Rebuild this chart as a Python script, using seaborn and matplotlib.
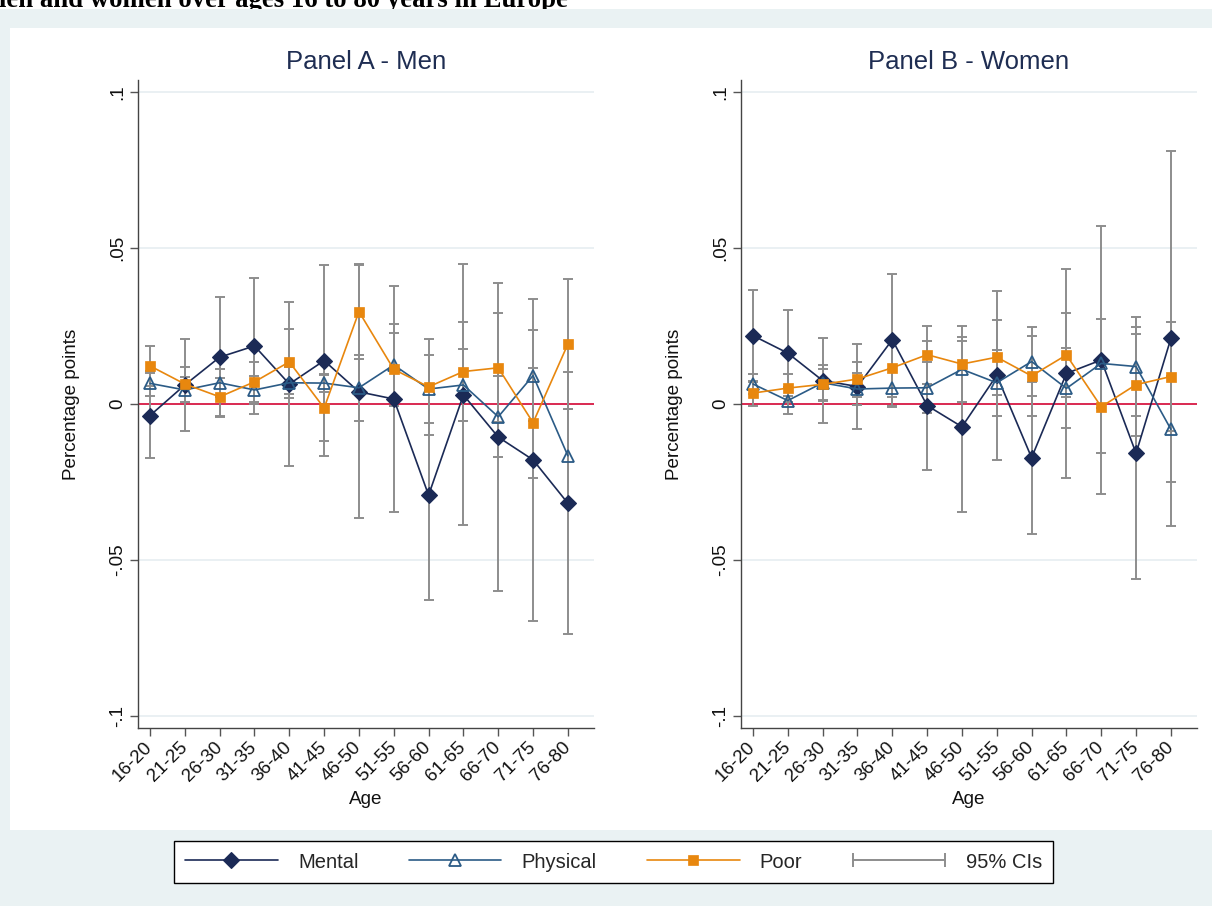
import numpy as np
import pandas as pd
import matplotlib
matplotlib.use("Agg")
import matplotlib.pyplot as plt
import seaborn as sns
from matplotlib.lines import Line2D
from matplotlib.legend_handler import HandlerLine2D
from matplotlib.patches import Rectangle

# ---------------- data ----------------
age_groups = ["16-20", "21-25", "26-30", "31-35", "36-40", "41-45", "46-50",
              "51-55", "56-60", "61-65", "66-70", "71-75", "76-80"]

men_mental = [-0.0037, 0.0061, 0.0150, 0.0186, 0.0064, 0.0139, 0.0039,
              0.0016, -0.0292, 0.0029, -0.0106, -0.0179, -0.0318]
men_mental_ci = [0.0137, 0.0146, 0.0193, 0.0217, 0.0263, 0.0305, 0.0405,
                 0.0363, 0.0335, 0.0418, 0.0494, 0.0516, 0.0420]
men_physical = [0.0066, 0.0045, 0.0068, 0.0045, 0.0068, 0.0067, 0.0052,
                0.0125, 0.0048, 0.0061, -0.0041, 0.0091, -0.0166]
men_physical_ci = [0.0040, 0.0040, 0.0044, 0.0045, 0.0050, 0.0030, 0.0105,
                   0.0131, 0.0110, 0.0115, 0.0130, 0.0146, 0.0150]
men_poor = [0.0122, 0.0064, 0.0023, 0.0071, 0.0135, -0.0013, 0.0296,
            0.0111, 0.0055, 0.0104, 0.0116, -0.0060, 0.0192]
men_poor_ci = [0.0064, 0.0056, 0.0060, 0.0064, 0.0104, 0.0105, 0.0153,
               0.0118, 0.0154, 0.0160, 0.0175, 0.0176, 0.0208]

women_mental = [0.0219, 0.0163, 0.0075, 0.0056, 0.0206, -0.0005, -0.0073,
                0.0092, -0.0172, 0.0098, 0.0141, -0.0158, 0.0210]
women_mental_ci = [0.0147, 0.0138, 0.0135, 0.0136, 0.0211, 0.0207, 0.0274,
                   0.0270, 0.0243, 0.0335, 0.0428, 0.0404, 0.0600]
women_physical = [0.0064, 0.0011, 0.0068, 0.0048, 0.0051, 0.0052, 0.0111,
                  0.0068, 0.0136, 0.0050, 0.0130, 0.0120, -0.0081]
women_physical_ci = [0.0032, 0.0043, 0.0058, 0.0050, 0.0060, 0.0081, 0.0105,
                     0.0105, 0.0110, 0.0128, 0.0142, 0.0159, 0.0170]
women_poor = [0.0035, 0.0051, 0.0063, 0.0080, 0.0116, 0.0158, 0.0128,
              0.0150, 0.0090, 0.0157, -0.0009, 0.0062, 0.0088]
women_poor_ci = [0.0040, 0.0045, 0.0050, 0.0056, 0.0095, 0.0093, 0.0122,
                 0.0120, 0.0127, 0.0136, 0.0149, 0.0163, 0.0174]

series_names = ["Mental", "Physical", "Poor"]
y_ticks = [-0.1, -0.05, 0, 0.05, 0.1]
y_tick_labels = ["-.1", "-.05", "0", ".05", ".1"]
panel_titles = ["Panel A - Men", "Panel B - Women"]
header_text = "men and women over ages 16 to 80 years in Europe"

# ---------------- style ----------------
sns.set_theme(style="white")
plt.rcParams["font.family"] = ["Liberation Sans", "DejaVu Sans"]

C_MENTAL = "#1b2a56"
C_PHYS = "#2b5b86"
C_POOR = "#e8870e"
C_CI = "#8d8d8d"
C_ZERO = "#d91a45"
C_BAND = "#eaf2f3"
C_GRID = "#e8eff2"
C_TITLE = "#1e2d52"

W, H = 1212, 906
fig = plt.figure(figsize=(W / 100, H / 100), dpi=100)
fig.patch.set_facecolor("white")

# header text (cut off at top) and background regions
fig.text(568 / W, 1 - 7 / H, header_text, ha="right", va="baseline",
         fontsize=19.3, fontweight="bold", family=["Liberation Serif"],
         color="black", zorder=-3)
fig.add_artist(Rectangle((0, 0), 1, 1 - 9 / H, transform=fig.transFigure,
                         facecolor=C_BAND, edgecolor="none", zorder=-2))
fig.add_artist(Rectangle((10 / W, 1 - 830 / H), 1 - 10 / W, (830 - 28) / H,
                         transform=fig.transFigure, facecolor="white",
                         edgecolor="none", zorder=-1))


def make_df(mental, physical, poor, mental_ci, physical_ci, poor_ci):
    rows = []
    for name, vals, cis in zip(series_names, [mental, physical, poor],
                               [mental_ci, physical_ci, poor_ci]):
        for i, (v, c) in enumerate(zip(vals, cis)):
            rows.append({"idx": i, "age": age_groups[i], "series": name,
                         "value": v, "ci": c})
    return pd.DataFrame(rows)


panels = [
    make_df(men_mental, men_physical, men_poor,
            men_mental_ci, men_physical_ci, men_poor_ci),
    make_df(women_mental, women_physical, women_poor,
            women_mental_ci, women_physical_ci, women_poor_ci),
]

styles = {
    "Mental": dict(color=C_MENTAL, marker="D", markersize=8.0,
                   markerfacecolor=C_MENTAL, markeredgecolor=C_MENTAL,
                   markeredgewidth=0.8),
    "Physical": dict(color=C_PHYS, marker="^", markersize=8.4,
                     markerfacecolor="none", markeredgecolor=C_PHYS,
                     markeredgewidth=1.3),
    "Poor": dict(color=C_POOR, marker="s", markersize=7.2,
                 markerfacecolor=C_POOR, markeredgecolor=C_POOR,
                 markeredgewidth=0.5),
}

lefts = [138, 741]
for p, (df, left, title) in enumerate(zip(panels, lefts, panel_titles)):
    ax = fig.add_axes([left / W, 1 - 728 / H, 456 / W, 648 / H])
    ax.set_facecolor("white")
    ax.set_xlim(-0.345, 12.75)
    ax.set_ylim(-0.1038, 0.1038)
    ax.set_yticks(y_ticks)
    ax.yaxis.grid(True, color=C_GRID, lw=1.3)
    ax.xaxis.grid(False)
    ax.set_axisbelow(True)
    ax.axhline(0, color=C_ZERO, lw=1.3, zorder=1.5)

    # confidence intervals
    for name in series_names:
        sub = df[df["series"] == name]
        ax.errorbar(sub["idx"], sub["value"], yerr=sub["ci"], fmt="none",
                    ecolor=C_CI, elinewidth=1.4, capsize=3.8, capthick=1.4,
                    zorder=2)
    # series lines
    for k, name in enumerate(series_names):
        sub = df[df["series"] == name]
        sns.lineplot(data=sub, x="idx", y="value", ax=ax, legend=False,
                     estimator=None, sort=True, linewidth=1.2,
                     zorder=3 + k, **styles[name])

    ax.set_xticks(range(len(age_groups)))
    ax.set_xticklabels(age_groups, rotation=45, ha="right", va="center",
                       rotation_mode="anchor")
    ax.set_yticklabels(y_tick_labels, rotation=90, va="center")
    ax.tick_params(axis="both", length=5.8, width=1.0, color="#555555",
                   labelsize=13.5, labelcolor="#111111", pad=3,
                   bottom=True, left=True)
    ax.tick_params(axis="x", pad=6)
    for s in ["top", "right"]:
        ax.spines[s].set_visible(False)
    for s in ["left", "bottom"]:
        ax.spines[s].set_color("#444444")
        ax.spines[s].set_linewidth(1.0)

    ax.set_xlabel("Age", fontsize=13.6, color="#111111")
    ax.xaxis.set_label_coords(0.5, -0.097)
    ax.set_ylabel("Percentage points", fontsize=13.6, color="#111111")
    ax.yaxis.set_label_coords(-0.128, 0.5)
    ax.text(0.5, 1.0278, title, transform=ax.transAxes, ha="center",
            va="center", fontsize=18.5, color=C_TITLE)

# legend
h_mental = Line2D([], [], lw=1.2, **styles["Mental"])
h_phys = Line2D([], [], lw=1.2, **styles["Physical"])
h_poor = Line2D([], [], lw=1.2, **styles["Poor"])
h_ci = Line2D([], [], color=C_CI, lw=1.4, marker="|", markersize=10,
              markeredgewidth=1.4, markeredgecolor=C_CI)
leg = fig.legend([h_mental, h_phys, h_poor, h_ci],
                 ["Mental", "Physical", "Poor", "95% CIs"],
                 loc="center", bbox_to_anchor=(613.5 / W, 1 - 862 / H),
                 ncol=4, frameon=True, fancybox=False, fontsize=14.5,
                 handlelength=4.6, handletextpad=1.0, columnspacing=2.5,
                 borderpad=0.55, numpoints=1,
                 handler_map={h_ci: HandlerLine2D(numpoints=2, marker_pad=0.0)})
leg.get_frame().set_edgecolor("black")
leg.get_frame().set_linewidth(1.0)
leg.get_frame().set_facecolor("white")
leg.get_frame().set_alpha(1.0)

fig.savefig("out.png", dpi=100)
